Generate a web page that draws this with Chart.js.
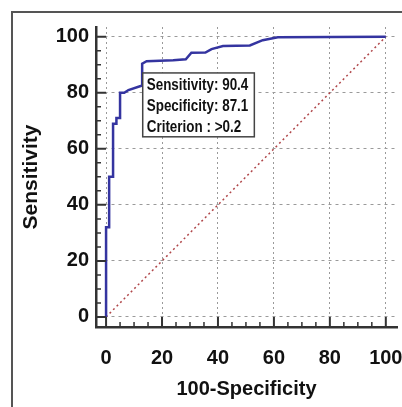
<!DOCTYPE html>
<html lang="en">
<head>
  <meta charset="UTF-8" />
  <title>ROC curve</title>
  <script src="https://cdn.jsdelivr.net/npm/chart.js"></script>
  <style>
    html, body { margin: 0; padding: 0; background: #fff; }
    #wrap { width: 402px; height: 407px; }
  </style>
</head>
<body>
  <div id="wrap"><canvas id="chart" width="402" height="407"></canvas></div>

  <script>
    // ROC curve (100-Specificity, Sensitivity)
    const rocX = [0, 0, 1.1, 1.1, 2.5, 2.5, 3.7, 3.7, 5, 5, 6.5, 8, 12.9, 12.9, 14.5, 24, 28.5, 30.5, 35.5, 37.7, 41.8, 51.4, 56, 61.4, 100];
    const rocY = [0, 32, 32, 50, 50, 69, 69, 71, 71, 80, 80, 81, 82.6, 90.4, 91.3, 91.6, 92, 94.3, 94.4, 95.6, 96.7, 96.9, 98.8, 99.8, 100];
    // reference diagonal
    const diagX = [0, 100];
    const diagY = [0, 100];
    const majorTicks = [0, 20, 40, 60, 80, 100];
    const minorTicks = [5, 10, 15, 25, 30, 35, 45, 50, 55, 65, 70, 75, 85, 90, 95];
    const boxLines = ['Sensitivity: 90.4', 'Specificity: 87.1', 'Criterion : >0.2'];

    const toPts = (xs, ys) => xs.map((x, i) => ({ x: x, y: ys[i] }));

    // outer frame (top and left edge of the figure)
    const framePlugin = {
      id: 'frame',
      beforeDraw(chart) {
        const ctx = chart.ctx;
        ctx.save();
        ctx.strokeStyle = '#555';
        ctx.lineWidth = 2;
        ctx.beginPath();
        ctx.moveTo(12, chart.height);
        ctx.lineTo(12, 12);
        ctx.lineTo(chart.width, 12);
        ctx.stroke();
        ctx.restore();
      }
    };

    // tick marks pointing into the plot, plus the criterion box
    const extrasPlugin = {
      id: 'extras',
      afterDatasetsDraw(chart) {
        const ctx = chart.ctx;
        const xs = chart.scales.x, ys = chart.scales.y;
        const area = chart.chartArea;

        // criterion box
        const bx1 = xs.getPixelForValue(13.1), bx2 = xs.getPixelForValue(53);
        const by1 = ys.getPixelForValue(87.1), by2 = ys.getPixelForValue(64.3);
        ctx.save();
        ctx.fillStyle = '#fff';
        ctx.fillRect(bx1, by1, bx2 - bx1, by2 - by1);
        ctx.strokeStyle = '#444';
        ctx.lineWidth = 1.5;
        ctx.strokeRect(bx1, by1, bx2 - bx1, by2 - by1);
        ctx.fillStyle = '#111';
        ctx.font = 'bold 16px "Liberation Sans", Arial, sans-serif';
        ctx.textBaseline = 'middle';
        // no narrow font installed, so squeeze the regular one
        ctx.translate(bx1 + 4, by1);
        ctx.scale(0.84, 1);
        boxLines.forEach((t, i) => ctx.fillText(t, 0, 13 + i * 21));
        ctx.restore();

        ctx.save();
        ctx.strokeStyle = '#333';
        ctx.lineWidth = 2;
        ctx.beginPath();
        majorTicks.forEach(v => {
          const px = xs.getPixelForValue(v);
          ctx.moveTo(px, area.bottom); ctx.lineTo(px, area.bottom - 10);
          const py = ys.getPixelForValue(v);
          ctx.moveTo(area.left, py); ctx.lineTo(area.left + 10, py);
        });
        ctx.stroke();
        ctx.lineWidth = 1.5;
        ctx.beginPath();
        minorTicks.forEach(v => {
          const px = xs.getPixelForValue(v);
          ctx.moveTo(px, area.bottom); ctx.lineTo(px, area.bottom - 5);
          const py = ys.getPixelForValue(v);
          ctx.moveTo(area.left, py); ctx.lineTo(area.left + 5, py);
        });
        ctx.stroke();
        ctx.restore();
      }
    };

    const tickFont = { family: '"Liberation Sans", Arial, sans-serif', size: 20, weight: 'bold' };
    const setTicks = scale => { scale.ticks = majorTicks.map(v => ({ value: v })); };

    new Chart(document.getElementById('chart'), {
      type: 'scatter',
      data: {
        datasets: [
          {
            data: toPts(diagX, diagY),
            showLine: true,
            borderColor: '#b0474a',
            borderWidth: 1.5,
            borderDash: [2, 3],
            pointRadius: 0,
            order: 2
          },
          {
            data: toPts(rocX, rocY),
            showLine: true,
            borderColor: '#3434a0',
            borderWidth: 2.5,
            pointRadius: 0,
            order: 1
          }
        ]
      },
      options: {
        responsive: false,
        animation: false,
        layout: { padding: { top: 27, right: 5, left: 0, bottom: 0 } },
        plugins: { legend: { display: false }, tooltip: { enabled: false } },
        scales: {
          x: {
            type: 'linear',
            min: -3.6,
            max: 104,
            afterBuildTicks: setTicks,
            afterFit: s => { s.height = 80; s.paddingLeft = 0; s.paddingRight = 0; },
            grid: { color: '#9a9a9a', lineWidth: 1, drawTicks: false },
            border: { display: true, color: '#333', width: 2.5, dash: [2, 3] },
            ticks: { color: '#111', font: tickFont, padding: 19, maxRotation: 0 },
            title: {
              display: true,
              text: '100-Specificity',
              color: '#111',
              font: { family: '"Liberation Sans", Arial, sans-serif', size: 20, weight: 'bold' },
              padding: { top: 0, bottom: 6 }
            }
          },
          y: {
            type: 'linear',
            min: -3.6,
            max: 103.5,
            afterBuildTicks: setTicks,
            afterFit: s => { s.width = 96; s.paddingTop = 0; s.paddingBottom = 0; },
            grid: { color: '#9a9a9a', lineWidth: 1, drawTicks: false },
            border: { display: true, color: '#333', width: 2.5, dash: [3, 4] },
            ticks: { color: '#111', font: tickFont, padding: 7 },
            title: {
              display: true,
              text: 'Sensitivity',
              color: '#111',
              font: { family: '"Liberation Sans", Arial, sans-serif', size: 21, weight: 'bold' },
              padding: { top: 19, bottom: 0 }
            }
          }
        }
      },
      plugins: [framePlugin, extrasPlugin]
    });
  </script>
</body>
</html>
